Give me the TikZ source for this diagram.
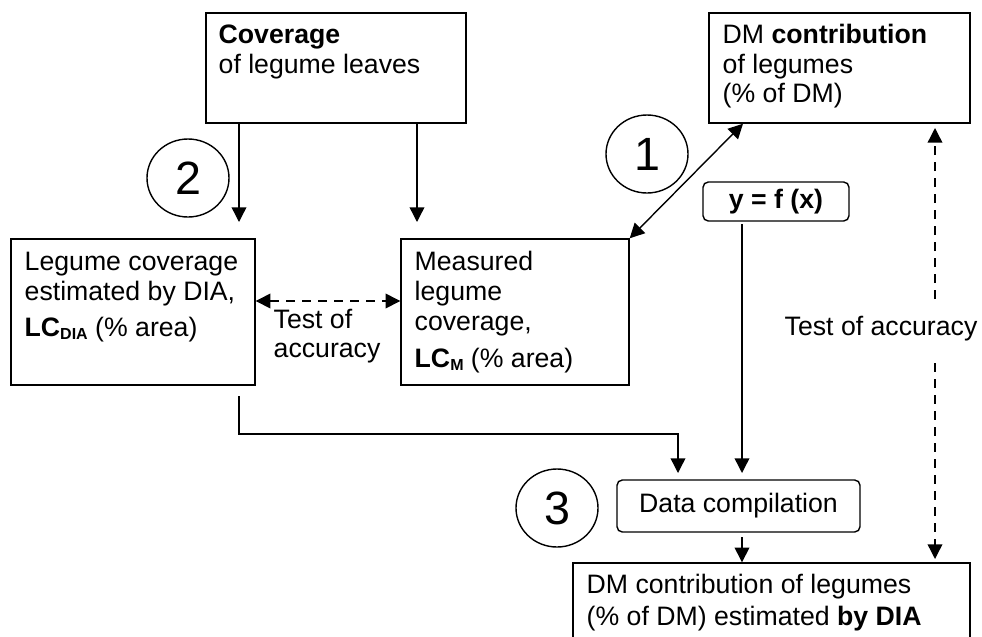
\documentclass[tikz,border=0pt]{standalone}
\usepackage{fontspec}
\setmainfont{Liberation Sans}
\usetikzlibrary{arrows.meta,calc,shapes.geometric}
\begin{document}
\begin{tikzpicture}[x=0.75pt,y=-0.75pt,
  line width=1.05pt,
  box/.style={draw,rectangle,inner sep=0pt},
  rbox/.style={draw,rectangle,rounded corners=4pt,inner sep=0pt},
  num/.style={draw,ellipse,minimum width=82*0.75pt,minimum height=78*0.75pt,inner sep=0pt,font=\fontsize{35}{35}\selectfont},
  txt/.style={anchor=base west,inner sep=0pt,align=left,font=\fontsize{20}{22.5}\selectfont},
  arr/.style={-{Triangle[length=11pt,width=11pt]}},
  darr/.style={{Triangle[length=11pt,width=11pt]}-{Triangle[length=11pt,width=11pt]}},
  dsh/.style={dash pattern=on 6.5pt off 5.5pt}
]
\useasboundingbox (0,0) rectangle (982,636);
\clip (0,0) rectangle (982,636);
% boxes
\node[box,minimum width=260*0.75pt,minimum height=110*0.75pt] (cov) at (336,68) {};
\node[box,minimum width=261*0.75pt,minimum height=110*0.75pt] (dm) at (839.5,68) {};
\node[box,minimum width=244*0.75pt,minimum height=146*0.75pt] (lcdia) at (133,312) {};
\node[box,minimum width=228*0.75pt,minimum height=146*0.75pt] (lcm) at (515,312) {};
\node[rbox,minimum width=146*0.75pt,minimum height=39*0.75pt,font=\fontsize{20}{22.5}\selectfont\bfseries] (yfx) at (776,201.5) {y = f (x)};
\node[rbox,minimum width=243*0.75pt,minimum height=52*0.75pt,font=\fontsize{20}{22.5}\selectfont] (data) at (738.5,506) {Data compilation};
\node[box,minimum width=397*0.75pt,minimum height=97*0.75pt] (final) at (771.5,611.5) {};
% circles
\node[num] (c2) at (188,178) {2};
\node[num] (c1) at (647,154) {1};
\node[num] (c3) at (557,508) {3};
% texts
\node[txt] (tcov1) at (218,43) {\textbf{Coverage}};
\node[txt] (tcov2) at (218,73) {of legume leaves};
\node[txt] (tdm1) at (722,43) {DM \textbf{contribution}};
\node[txt] (tdm2) at (722,73) {of legumes};
\node[txt] (tdm3) at (722,102) {(\% of DM)};
\node[txt] (tl1) at (24,270) {Legume coverage};
\node[txt] (tl2) at (24,300) {estimated by DIA,};
\node[txt] (tl3) at (24,336) {\textbf{LC}\raisebox{-2.5pt}{\fontsize{12}{12}\selectfont\bfseries DIA} (\% area)};
\node[txt] (tm1) at (414,270) {Measured};
\node[txt] (tm2) at (414,300) {legume};
\node[txt] (tm3) at (414,330) {coverage,};
\node[txt] (tm4) at (414,367) {\textbf{LC}\raisebox{-2.5pt}{\fontsize{12}{12}\selectfont\bfseries M} (\% area)};
\node[txt] (ta1) at (273,328) {Test of};
\node[txt] (ta2) at (273,357) {accuracy};
\node[txt] (tr) at (784,335) {Test of accuracy};
\node[txt] (tf1) at (586,593) {DM contribution of legumes};
\node[txt] (tf2) at (586,625) {(\% of DM) estimated \textbf{by DIA}};
% connectors
\coordinate (a1e) at (239,222);
\coordinate (a2e) at (417,222);
\draw[arr] (cov.south -| a1e) -- (a1e);
\draw[arr] (cov.south -| a2e) -- (a2e);
\draw[darr] (lcm.north east) -- (dm.south -| 743,0);
\draw[darr,dsh] (lcdia.east |- 0,301) -- (lcm.west |- 0,301);
\coordinate (yb) at (742,224);
\coordinate (ye) at (742,473);
\draw[arr] (yb) -- (ye);
\coordinate (lb) at (239,396);
\coordinate (lc) at (239,434);
\coordinate (le) at (678,473);
\draw[arr] (lb) -- (lc) -| (le);
\draw[arr] (742,537) -- (final.north -| 742,0);
\coordinate (u1) at (935,299);
\coordinate (u2) at (935,128);
\coordinate (d1) at (935,363);
\coordinate (d2) at (935,559);
\draw[arr,dsh] (u1) -- (u2);
\draw[arr,dsh] (d1) -- (d2);
\end{tikzpicture}
\end{document}
